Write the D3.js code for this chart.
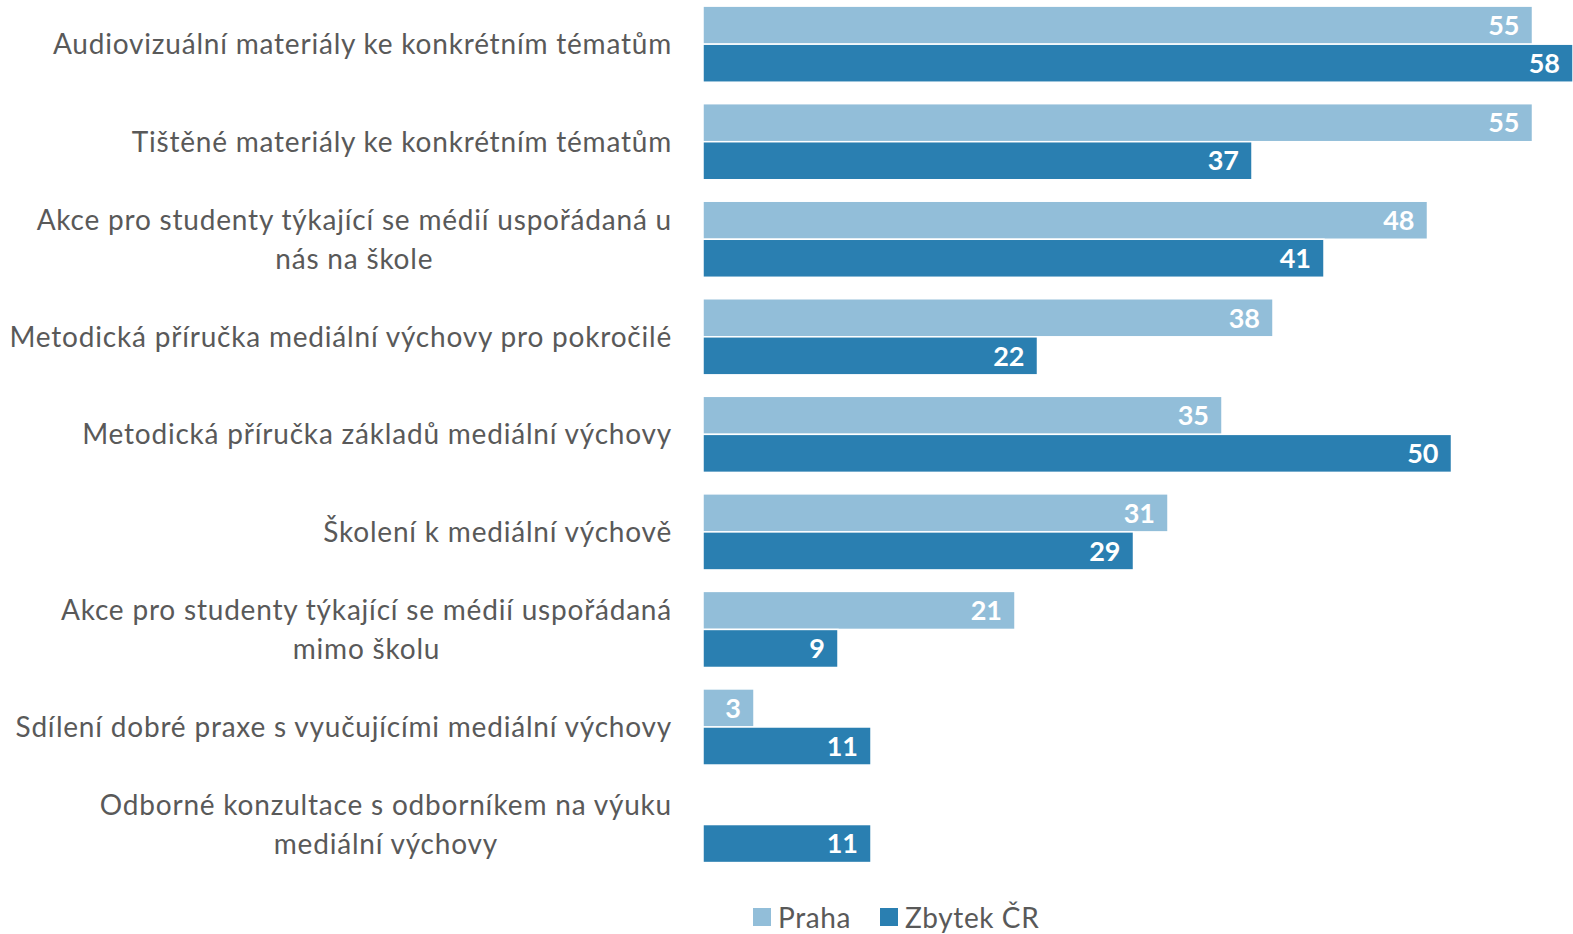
<!DOCTYPE html>
<html>
<head>
<meta charset="utf-8">
<script src="https://cdn.jsdelivr.net/npm/d3@7"></script>
<style>
  body { margin: 0; background: #fff; }
  text { font-family: Lato, "Open Sans", sans-serif; }
</style>
</head>
<body>
<div id="chart"></div>
<script>
// data
var categories = [
    ["Audiovizuální materiály ke konkrétním tématům"],
    ["Tištěné materiály ke konkrétním tématům"],
    ["Akce pro studenty týkající se médií uspořádaná u", "nás na škole"],
    ["Metodická příručka mediální výchovy pro pokročilé"],
    ["Metodická příručka základů mediální výchovy"],
    ["Školení k mediální výchově"],
    ["Akce pro studenty týkající se médií uspořádaná", "mimo školu"],
    ["Sdílení dobré praxe s vyučujícími mediální výchovy"],
    ["Odborné konzultace s odborníkem na výuku", "mediální výchovy"]
];
var praha = [55.3, 55.3, 48.3, 38, 34.6, 31, 20.8, 3.4, null];
var zbytek = [58, 36.6, 41.4, 22.3, 49.9, 28.7, 9, 11.2, 11.2];
var seriesNames = ["Praha", "Zbytek ČR"];
var colors = ["#92bed9", "#2a7fb1"];

var W = 1573, H = 934;
var x0 = 703;

var svg = d3.select("#chart")
    .append("svg")
    .attr("width", W)
    .attr("height", H);

var x = d3.scaleLinear()
    .domain([0, 58])
    .range([x0, 1573]);

var y = d3.scaleBand()
    .domain(d3.range(categories.length))
    .range([-4.6, 873.3])
    .paddingInner(0.22)
    .paddingOuter(0.11);

var sub = d3.scaleBand()
    .domain([0, 1])
    .range([0, y.bandwidth()])
    .padding(0);

var fmt = d3.format(".0f");

[praha, zbytek].forEach(function(vals, s) {
    var g = svg.append("g");
    var rows = vals.map(function(v, i) { return { v: v, i: i }; })
        .filter(function(d) { return d.v != null; });

    g.selectAll("rect")
        .data(rows)
        .enter()
        .append("rect")
        .attr("x", x(0))
        .attr("y", function(d) { return y(d.i) + sub(s); })
        .attr("width", function(d) { return x(d.v) - x(0); })
        .attr("height", sub.bandwidth())
        .attr("fill", colors[s])
        .attr("stroke", "#fff")
        .attr("stroke-width", 1.5);

    g.selectAll("text")
        .data(rows)
        .enter()
        .append("text")
        .attr("x", function(d) { return x(d.v) - 13; })
        .attr("y", function(d) { return y(d.i) + sub(s) + sub.bandwidth() / 2; })
        .attr("dy", "0.36em")
        .attr("text-anchor", "end")
        .attr("fill", "#fff")
        .attr("font-weight", "bold")
        .attr("font-size", "27px")
        .text(function(d) { return fmt(d.v); });
});

// category labels, block right aligned, lines centered
var labelRight = 672;
var lineH = 39;
categories.forEach(function(lines, i) {
    var g = svg.append("g");
    var cy = y(i) + y.bandwidth() / 2;
    var texts = lines.map(function(t, k) {
        return g.append("text")
            .attr("y", cy + (k - (lines.length - 1) / 2) * lineH)
            .attr("dy", "0.35em")
            .attr("fill", "#595959")
            .attr("font-size", "28px")
            .attr("letter-spacing", "0.8px")
            .attr("text-anchor", "middle")
            .text(t);
    });
    var maxW = d3.max(texts, function(t) { return t.node().getComputedTextLength(); });
    texts.forEach(function(t) { t.attr("x", labelRight - maxW / 2); });
});

// legend
var legend = svg.append("g");
var legX = [753, 880];
seriesNames.forEach(function(n, s) {
    legend.append("rect")
        .attr("x", legX[s])
        .attr("y", 908)
        .attr("width", 18)
        .attr("height", 18)
        .attr("fill", colors[s]);
    legend.append("text")
        .attr("x", legX[s] + 25)
        .attr("y", 918)
        .attr("dy", "0.36em")
        .attr("fill", "#595959")
        .attr("font-size", "28px")
        .attr("letter-spacing", "0.6px")
        .text(n);
});
</script>
</body>
</html>
